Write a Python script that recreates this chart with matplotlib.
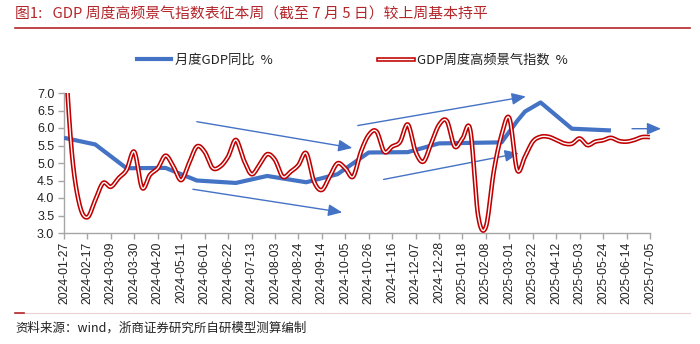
import numpy as np
import pandas as pd
import matplotlib
matplotlib.use('Agg')
import matplotlib.pyplot as plt
import matplotlib.dates as mdates
from matplotlib.lines import Line2D

plt.rcParams['font.family'] = ['Noto Sans CJK SC', 'DejaVu Sans']

# 周度高频景气指数（每周六）
week_start = '2024-01-27'
red_values = [8.6, 5.3, 3.8, 3.45, 3.94, 4.43, 4.32, 4.57, 4.8, 5.32,
              4.29, 4.66, 4.85, 5.21, 4.9, 4.51, 4.99, 5.47, 5.32, 4.86,
              4.9, 5.18, 5.66, 5.09, 4.68, 4.94, 5.25, 5.09, 4.61, 4.75,
              4.94, 5.28, 4.47, 4.23, 4.61, 4.99, 4.85, 4.61, 5.32, 5.8,
              5.9, 5.32, 5.47, 5.6, 6.1, 5.32, 5.04, 5.56, 6.09, 6.2,
              5.47, 5.7, 5.94, 3.5, 3.18, 4.75, 5.8, 6.28, 4.8, 5.18,
              5.61, 5.75, 5.75, 5.66, 5.56, 5.55, 5.7, 5.51, 5.61, 5.65,
              5.72, 5.63, 5.61, 5.66, 5.74, 5.74]

# 月度GDP同比
blue_dates = ['2024-01-27', '2024-02-24', '2024-03-23', '2024-04-27', '2024-05-25',
              '2024-06-29', '2024-07-27', '2024-08-31', '2024-09-28', '2024-10-26',
              '2024-11-30', '2024-12-28', '2025-02-22', '2025-03-08', '2025-03-15',
              '2025-03-29', '2025-04-26', '2025-05-31']
blue_values = [5.72, 5.53, 4.85, 4.86, 4.5, 4.43, 4.63, 4.45, 4.68, 5.3,
               5.31, 5.56, 5.59, 6.2, 6.47, 6.73, 5.98, 5.93]

weeks = pd.date_range(week_start, periods=len(red_values), freq='7D')
tick_dates = pd.date_range(week_start, '2025-07-05', freq='21D')

# 箭头（起点周序号, 起点值, 终点周序号, 终点值）
arrows = [(17.0, 6.18, 36.9, 5.43),
          (16.5, 4.25, 35.6, 3.59),
          (37.6, 6.07, 59.1, 6.90),
          (40.9, 4.53, 58.2, 5.28),
          (72.7, 5.98, 76.4, 5.98)]

blue_c = '#4472C4'
red_c = '#C00000'
title_c = '#B3262B'


# Excel 风格平滑曲线
def smooth(x, y, n=12):
    x = np.asarray(x, float)
    y = np.asarray(y, float)
    px = np.concatenate([[x[0]], x, [x[-1]]])
    py = np.concatenate([[y[0]], y, [y[-1]]])
    xs, ys = [], []
    t = np.linspace(0, 1, n, endpoint=False)
    for i in range(1, len(px) - 2):
        p0x, p1x, p2x, p3x = px[i - 1:i + 3]
        p0y, p1y, p2y, p3y = py[i - 1:i + 3]
        c1x = p1x + (p2x - p0x) / 6
        c1y = p1y + (p2y - p0y) / 6
        c2x = p2x - (p3x - p1x) / 6
        c2y = p2y - (p3y - p1y) / 6
        b0 = (1 - t) ** 3
        b1 = 3 * (1 - t) ** 2 * t
        b2 = 3 * (1 - t) * t ** 2
        b3 = t ** 3
        xs.append(b0 * p1x + b1 * c1x + b2 * c2x + b3 * p2x)
        ys.append(b0 * p1y + b1 * c1y + b2 * c2y + b3 * p2y)
    xs.append([x[-1]])
    ys.append([y[-1]])
    return np.concatenate(xs), np.concatenate(ys)


fig = plt.figure(figsize=(7, 3.44), dpi=100)
ax = fig.add_axes([64 / 700, 1 - 233 / 344, (650 - 64) / 700, (233 - 93) / 344])

xnum = mdates.date2num(weeks)
sx, sy = smooth(xnum, red_values)

ax.plot(pd.to_datetime(blue_dates), blue_values, color=blue_c, lw=3.0,
        solid_joinstyle='round', solid_capstyle='butt', zorder=3)
ax.plot(sx, sy, color=red_c, lw=3.3, solid_capstyle='butt', zorder=4)
ax.plot(sx, sy, color='white', lw=1.0, solid_capstyle='butt', zorder=5)

for w0, v0, w1, v1 in arrows:
    d0 = mdates.date2num(weeks[0]) + 7 * w0
    d1 = mdates.date2num(weeks[0]) + 7 * w1
    ax.annotate('', xy=(d1, v1), xytext=(d0, v0), annotation_clip=False,
                arrowprops=dict(arrowstyle='-|>,head_length=0.7,head_width=0.3',
                                color=blue_c, lw=1.0, shrinkA=0, shrinkB=0,
                                mutation_scale=12), zorder=2)

ax.set_ylim(3.0, 7.0)
ax.set_yticks(np.arange(3.0, 7.01, 0.5))
ax.set_yticklabels(['%.1f' % v for v in np.arange(3.0, 7.01, 0.5)],
                   fontfamily='Liberation Sans', fontsize=9)
ax.set_xlim(mdates.date2num(weeks[0]), mdates.date2num(weeks[-1]))
ax.set_xticks(mdates.date2num(tick_dates))
ax.set_xticklabels([d.strftime('%Y-%m-%d') for d in tick_dates], rotation=90,
                   fontfamily='Liberation Sans', fontsize=8.7)
for s in ['top', 'right']:
    ax.spines[s].set_visible(False)
for s in ['left', 'bottom']:
    ax.spines[s].set_color('#A6A6A6')
    ax.spines[s].set_linewidth(1.0)
ax.tick_params(axis='both', color='#A6A6A6', length=4, width=1.0, labelcolor='#222222')
ax.tick_params(axis='y', pad=3)
ax.tick_params(axis='x', pad=2)

h_blue = Line2D([], [], color=blue_c, lw=3.0)
h_red = (Line2D([], [], color=red_c, lw=3.3), Line2D([], [], color='white', lw=1.0))
fig.legend([h_blue, h_red], ['月度GDP同比  %', 'GDP周度高频景气指数  %'],
           loc='center', bbox_to_anchor=(0.503, 1 - 60 / 344), ncol=2, frameon=False,
           fontsize=9.5, handlelength=2.6, handletextpad=0.3, columnspacing=8.0,
           labelcolor='#222222')

fig.text(15 / 700, 1 - 15 / 344, '图1:   GDP 周度高频景气指数表征本周（截至 7 月 5 日）较上周基本持平',
         color=title_c, fontsize=10.7, va='center', ha='left')
fig.add_artist(Line2D([15 / 700, 690 / 700], [1 - 28 / 344] * 2, color=title_c, lw=1.2))
fig.add_artist(Line2D([15 / 700, 690 / 700], [1 - 313 / 344] * 2, color='#EAD0D0', lw=0.8))
fig.add_artist(Line2D([15 / 700, 24 / 700], [1 - 313 / 344] * 2, color=title_c, lw=1.2))
fig.text(15 / 700, 1 - 328 / 344, '资料来源：wind，浙商证券研究所自研模型测算编制',
         color='#222222', fontsize=9, va='center', ha='left')

fig.savefig('out.png', dpi=100)
